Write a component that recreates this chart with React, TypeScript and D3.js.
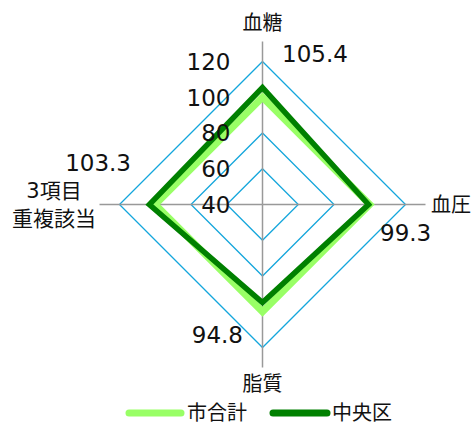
import * as d3 from 'd3'
import React from 'react'

const axes = ['血糖', '血圧', '脂質', '3項目\n重複該当']
const cityTotal = [100, 100, 100, 100]
const chuoku = [105.4, 99.3, 94.8, 103.3]
const ticks = [40, 60, 80, 100, 120]

const W = 476
const H = 426
const cx = 262.5
const cy = 204.5
const R = 143
const font = '"DejaVu Sans", "Noto Sans CJK JP", sans-serif'
const jpFont = '"Noto Sans CJK JP", sans-serif'

export default function App() {
  const r = d3.scaleLinear().domain([40, 120]).range([0, R])
  const angle = (i: number) => (i * Math.PI * 2) / axes.length
  const pt = (i: number, v: number) => [
    cx + Math.sin(angle(i)) * r(v),
    cy - Math.cos(angle(i)) * r(v),
  ] as [number, number]

  const line = d3.line<number>()
    .x((v, i) => pt(i, v)[0])
    .y((v, i) => pt(i, v)[1])
    .curve(d3.curveLinearClosed)

  const valueLabels = [
    { x: 282, y: 54, anchor: 'start' },
    { x: 380, y: 233, anchor: 'start' },
    { x: 243, y: 335, anchor: 'end' },
    { x: 131, y: 163, anchor: 'end' },
  ]

  return (
    <svg width={W} height={H} style={{ position: 'absolute', left: 0, top: 0 }}>
      <rect width={W} height={H} fill="#fff" />
      {/* grid rings */}
      {ticks.slice(1).map(t => (
        <path key={t} d={line(axes.map(() => t)) || ''} fill="none" stroke="#14a6dc" strokeWidth={1.3} />
      ))}
      {/* spokes */}
      {axes.map((a, i) => {
        const [x, y] = pt(i, 120 + 80 * 20 / R)
        return <line key={a} x1={cx} y1={cy} x2={x} y2={y} stroke="#999" strokeWidth={1.5} />
      })}
      {/* series */}
      <path d={line(cityTotal) || ''} fill="none" stroke="#99ff66" strokeWidth={7} strokeLinejoin="miter" />
      <path d={line(chuoku) || ''} fill="none" stroke="#008000" strokeWidth={5.5} strokeLinejoin="miter" />
      {/* tick labels */}
      {ticks.map(t => (
        <text key={t} x={cx - 32} y={cy - r(t)} dy="0.36em" textAnchor="end"
          fontFamily={font} fontSize={23} fill="#111">{t}</text>
      ))}
      {/* value labels */}
      {chuoku.map((v, i) => (
        <text key={i} x={valueLabels[i].x} y={valueLabels[i].y} dy="0.36em"
          textAnchor={valueLabels[i].anchor as any} fontFamily={font} fontSize={23} fill="#111">
          {v.toFixed(1)}
        </text>
      ))}
      {/* category labels */}
      <text x={cx} y={23} dy="0.36em" textAnchor="middle" fontFamily={jpFont} fontSize={20} fill="#111">{axes[0]}</text>
      <text x={431} y={205} dy="0.36em" textAnchor="start" fontFamily={jpFont} fontSize={20} fill="#111">{axes[1]}</text>
      <text x={cx} y={384} dy="0.36em" textAnchor="middle" fontFamily={jpFont} fontSize={20} fill="#111">{axes[2]}</text>
      {axes[3].split('\n').map((s, k) => (
        <text key={k} x={54} y={190 + k * 28} dy="0.36em" textAnchor="middle" fontFamily={k === 0 ? font : jpFont} fontSize={21} fill="#111">{s}</text>
      ))}
      {/* legend */}
      <line x1={129} x2={181} y1={413} y2={413} stroke="#99ff66" strokeWidth={7} strokeLinecap="round" />
      <text x={187} y={413} dy="0.36em" fontFamily={jpFont} fontSize={20} fill="#111">市合計</text>
      <line x1={273} x2={327} y1={413} y2={413} stroke="#008000" strokeWidth={7} strokeLinecap="round" />
      <text x={332} y={413} dy="0.36em" fontFamily={jpFont} fontSize={20} fill="#111">中央区</text>
    </svg>
  )
}
